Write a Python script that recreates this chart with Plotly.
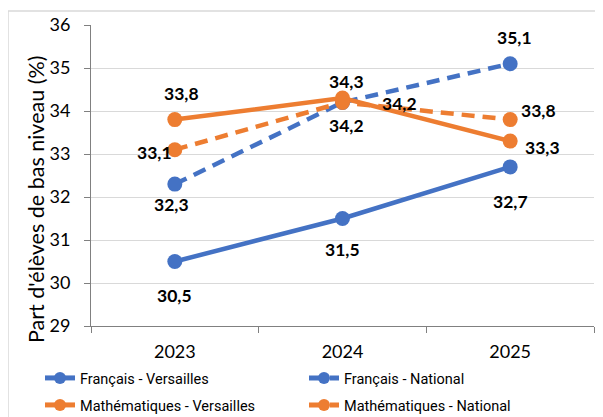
import plotly.graph_objects as go

years = ["2023", "2024", "2025"]
fr_versailles = [30.5, 31.5, 32.7]
fr_national = [32.3, 34.2, 35.1]
math_versailles = [33.8, 34.3, 33.3]
math_national = [33.1, 34.2, 33.8]
series_names = ["Français - Versailles", "Français - National",
                "Mathématiques - Versailles", "Mathématiques - National"]
y_title = "Part d'élèves de bas niveau (%)"

BLUE = "#4472C4"
ORANGE = "#ED7D31"

series = [fr_versailles, fr_national, math_versailles, math_national]
colors = [BLUE, BLUE, ORANGE, ORANGE]
dashes = ["solid", "13px,8px", "solid", "13px,8px"]
legends = ["legend", "legend", "legend2", "legend2"]

# label pixel offsets (dx, dy in screen px, dy positive = down)
label_offsets = [
    [(0, 34), (0, 31), (0, 35)],
    [(-3, 20), (4, 23), (4, -26)],
    [(7, -26), (4, -17), (32, 6)],
    [(-20, 3), (57, 1), (28, -9)],
]

W, H = 595, 409
L, R, T, B = 83, 9, 17, 91
pw, ph = W - L - R, H - T - B

fig = go.Figure()
for vals, name, col, dash, lg in zip(series, series_names, colors, dashes, legends):
    fig.add_trace(go.Scatter(
        x=years, y=vals, name=name, mode="lines+markers",
        line=dict(color=col, width=4.5, dash=dash),
        marker=dict(color=col, size=15),
        legend=lg,
    ))

annotations = []
for vals, offs in zip(series, label_offsets):
    for i, (yv, (dx, dy)) in enumerate(zip(vals, offs)):
        annotations.append(dict(
            x=i, y=yv, xref="x", yref="y",
            text="<b>" + f"{yv:.1f}".replace(".", ",") + "</b>", showarrow=False,
            xshift=dx, yshift=-dy,
            font=dict(family="Lato", size=17.5, color="#000000"),
        ))

# y-axis title (placed lower than the plot centre, as in the reference)
annotations.append(dict(
    text=y_title, textangle=-90, showarrow=False,
    xref="paper", yref="paper",
    x=(28 - L) / pw, y=(H - B - 192) / ph, xanchor="center", yanchor="middle",
    font=dict(family="Lato", size=21.5, color="#000000"),
))

legend_common = dict(
    orientation="h", x=(32 - L) / pw, xanchor="left", yanchor="middle",
    entrywidth=219, entrywidthmode="pixels", itemsizing="constant",
    font=dict(family="Roboto", size=14.5, color="#000000"),
    bgcolor="rgba(0,0,0,0)",
)

fig.update_layout(
    width=W, height=H,
    margin=dict(l=L, r=R, t=T, b=B, autoexpand=False),
    paper_bgcolor="white", plot_bgcolor="white",
    showlegend=True,
    annotations=annotations,
    font=dict(family="Lato", color="#000000"),
    legend=dict(y=(H - B - 370) / ph, **legend_common),
    legend2=dict(y=(H - B - 397) / ph, **legend_common),
    shapes=[dict(type="rect", xref="paper", yref="paper",
                 x0=(0 - L) / pw, x1=(W + 5 - L) / pw,
                 y0=(H - B - (H + 10)) / ph, y1=(H - B - 3) / ph,
                 line=dict(color="#D9D9D9", width=1.5), layer="below")],
)

fig.update_xaxes(
    type="category", showgrid=False, showline=True, linecolor="#808080", linewidth=1,
    ticks="outside", tickson="boundaries", ticklen=6, tickcolor="#808080",
    tickfont=dict(family="Lato", size=18, color="#000000"),
    ticklabelstandoff=9,
    range=[-0.5, 2.5],
)
fig.update_yaxes(
    range=[29, 36], dtick=1, showgrid=True, gridcolor="#D9D9D9", gridwidth=1,
    showline=True, linecolor="#808080", linewidth=1,
    ticks="outside", ticklen=6, tickcolor="#808080",
    tickfont=dict(family="Lato", size=18, color="#000000"),
    ticklabelstandoff=10,
    zeroline=False,
)

fig.write_html("out.html")
